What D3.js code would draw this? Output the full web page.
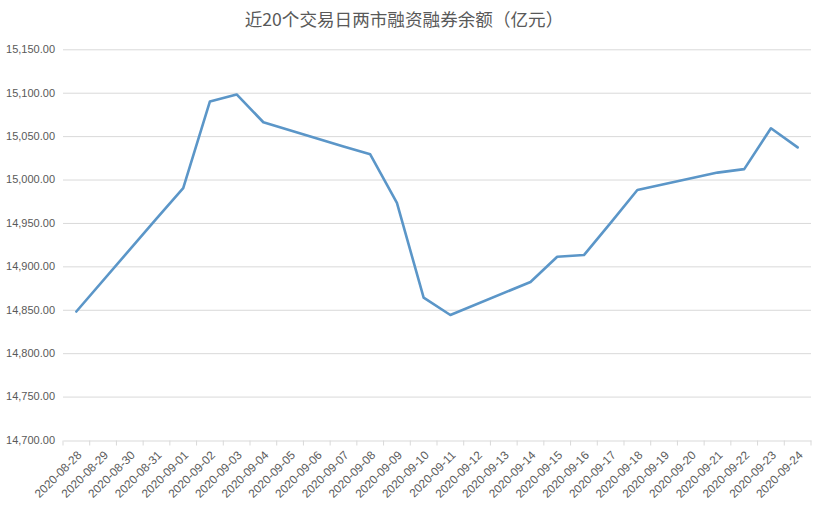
<!DOCTYPE html>
<html><head><meta charset="utf-8">
<script src="https://cdn.jsdelivr.net/npm/d3@7"></script>
<style>body{margin:0;background:#fff;} svg{display:block;}</style>
</head><body>
<svg id="c" width="823" height="509"></svg>
<script>
const title = "近20个交易日两市融资融券余额（亿元）";
const dates = ["2020-08-28","2020-08-29","2020-08-30","2020-08-31","2020-09-01","2020-09-02","2020-09-03","2020-09-04","2020-09-05","2020-09-06","2020-09-07","2020-09-08","2020-09-09","2020-09-10","2020-09-11","2020-09-12","2020-09-13","2020-09-14","2020-09-15","2020-09-16","2020-09-17","2020-09-18","2020-09-19","2020-09-20","2020-09-21","2020-09-22","2020-09-23","2020-09-24"];
const tradeDates = ["2020-08-28","2020-08-31","2020-09-01","2020-09-02","2020-09-03","2020-09-04","2020-09-07","2020-09-08","2020-09-09","2020-09-10","2020-09-11","2020-09-14","2020-09-15","2020-09-16","2020-09-17","2020-09-18","2020-09-21","2020-09-22","2020-09-23","2020-09-24"];
const values = [14848,14955,14990,15090,15098,15066,15038,15029,14973,14864,14844,14882,14911,14913,14950,14988,15008,15012,15059,15037];
const yTicks = [14700,14750,14800,14850,14900,14950,15000,15050,15100,15150];

const svg = d3.select("#c");
const mLeft = 63, mRight = 811, mTop = 49.3, mBottom = 440;
const x = d3.scaleBand().domain(dates).range([mLeft, mRight]).padding(0);
const y = d3.scaleLinear().domain([14700, 15150]).range([mBottom, mTop]);
const font = "'Liberation Sans', 'Noto Sans CJK SC', sans-serif";

svg.append("text").attr("x", 404).attr("y", 26).attr("text-anchor","middle")
  .attr("font-family","'Noto Sans CJK SC', sans-serif").attr("font-size",17.6).attr("fill","#595959").text(title);

// gridlines
svg.append("g").selectAll("line").data(yTicks.filter(d=>d!==14700)).join("line")
  .attr("x1", mLeft).attr("x2", mRight).attr("y1", d=>y(d)+0.5).attr("y2", d=>y(d)+0.5)
  .attr("stroke","#d9d9d9").attr("stroke-width",1);

// y labels
svg.append("g").selectAll("text").data(yTicks).join("text")
  .attr("x", 55).attr("y", d=>y(d)).attr("dy","0.35em").attr("text-anchor","end")
  .attr("font-family",font).attr("font-size",11).attr("fill","#595959")
  .text(d=>d3.format(",.2f")(d));

// x axis
const xAxis = d3.axisBottom(x).tickSize(0).tickFormat("");
const gx = svg.append("g").attr("transform",`translate(0,${mBottom+0.5})`).call(xAxis);
gx.select(".domain").attr("stroke","#d9d9d9");
const bounds = dates.map(d=>x(d)).concat([mRight]);
gx.selectAll(".tb").data(bounds).join("line").attr("class","tb")
  .attr("x1",d=>d).attr("x2",d=>d).attr("y1",0).attr("y2",5).attr("stroke","#d9d9d9");

svg.append("g").selectAll("text").data(dates).join("text")
  .attr("transform", d=>`translate(${x(d)+x.bandwidth()/2+3},${mBottom+13}) rotate(-45)`)
  .attr("text-anchor","end").attr("dy","0.35em")
  .attr("font-family",font).attr("font-size",11.8).attr("fill","#595959").text(d=>d);

// line
const pts = tradeDates.map((d,i)=>({d, v: values[i]}));
const line = d3.line().x(p=>x(p.d)+x.bandwidth()/2).y(p=>y(p.v));
svg.append("path").datum(pts).attr("d", line).attr("fill","none")
  .attr("stroke","#5b96c8").attr("stroke-width",2.6).attr("stroke-linejoin","round").attr("stroke-linecap","round");
</script>
</body></html>
